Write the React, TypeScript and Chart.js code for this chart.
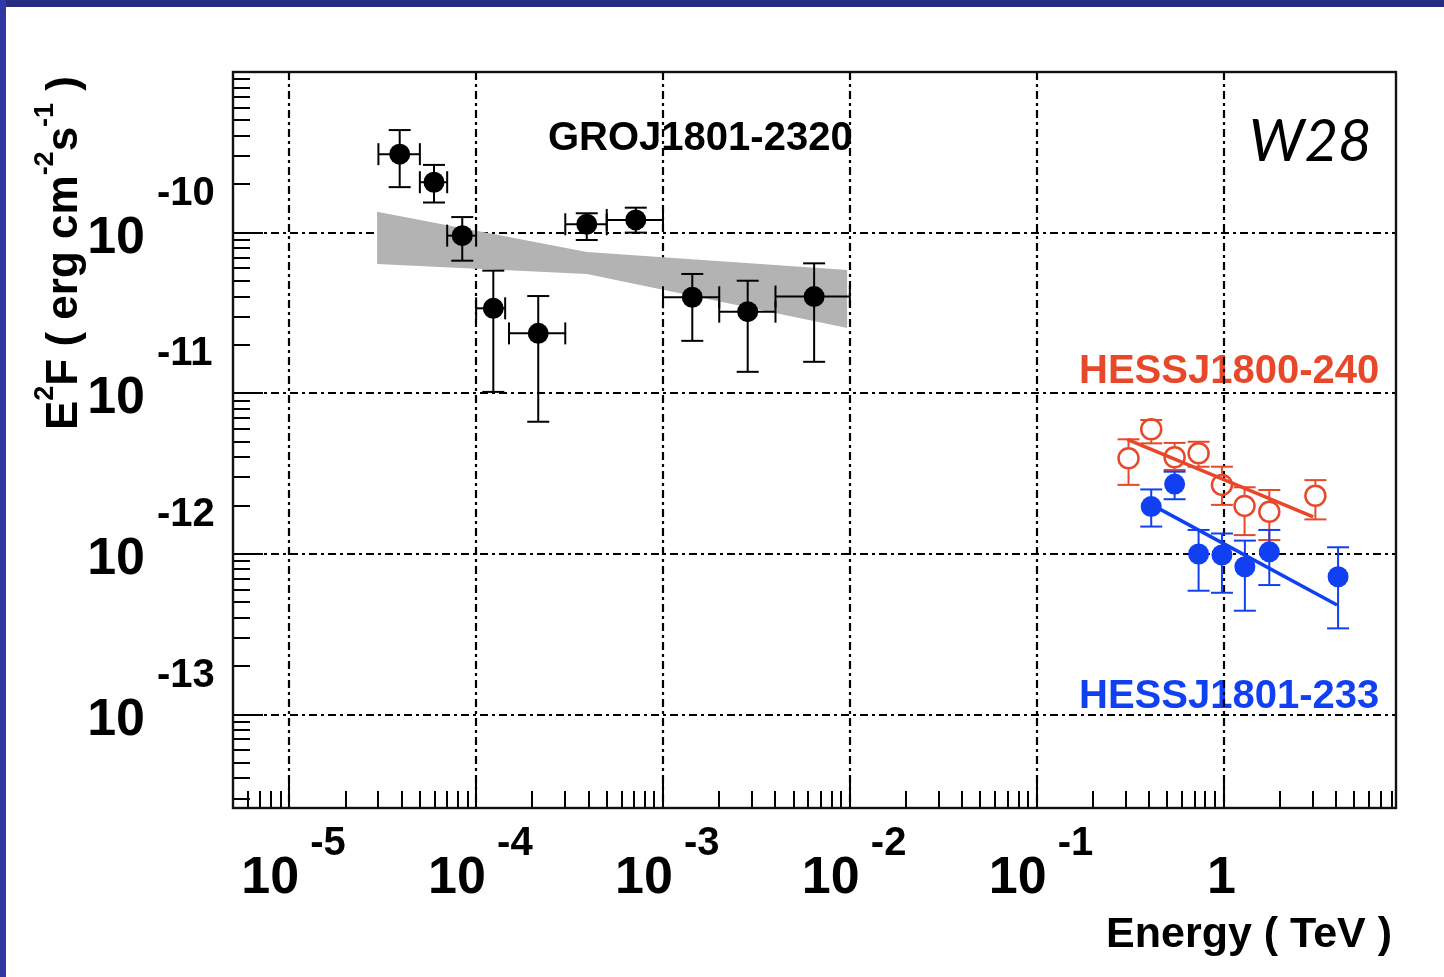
import React, { useEffect, useRef } from "react";
import { Chart, registerables } from "chart.js";
Chart.register(...registerables);

// ---------- axis ranges & ticks ----------
const xMin = 5.0e-6;
const xMax = 8.37;
const yMin = 2.62e-14;
const yMax = 1.0e-9;
const xTickExps = [-5, -4, -3, -2, -1, 0];
const yTickExps = [-10, -11, -12, -13];

// ---------- labels ----------
const labelEgret = "GROJ1801-2320";
const labelRed = "HESSJ1800-240";
const labelBlue = "HESSJ1801-233";
const labelW28 = "W28";
const xTitle = "Energy ( TeV )";

// ---------- GRO J1801-2320 (EGRET) ----------
const egretE = [3.9e-5, 5.95e-5, 8.43e-5, 1.236e-4, 2.15e-4, 3.91e-4, 7.15e-4, 1.435e-3, 2.84e-3, 6.44e-3];
const egretElo = [3.0e-5, 5.0e-5, 7.0e-5, 1.0e-4, 1.5e-4, 3.0e-4, 5.0e-4, 1.0e-3, 2.0e-3, 4.0e-3];
const egretEhi = [5.0e-5, 7.0e-5, 1.0e-4, 1.43e-4, 3.0e-4, 5.0e-4, 1.0e-3, 2.0e-3, 4.0e-3, 1.0e-2];
const egretF = [3.08e-10, 2.06e-10, 9.58e-11, 3.38e-11, 2.36e-11, 1.128e-10, 1.2e-10, 3.96e-11, 3.22e-11, 4.0e-11];
const egretFlo = [1.92e-10, 1.54e-10, 6.69e-11, 1.02e-11, 6.65e-12, 9.0e-11, 1.0e-10, 2.12e-11, 1.36e-11, 1.57e-11];
const egretFhi = [4.35e-10, 2.64e-10, 1.25e-10, 5.8e-11, 4.03e-11, 1.32e-10, 1.43e-10, 5.53e-11, 5.02e-11, 6.44e-11];

// ---------- butterfly band ----------
const bandE = [2.95e-5, 3.92e-4, 9.7e-3];
const bandUpper = [1.35e-10, 7.58e-11, 5.86e-11];
const bandLower = [6.38e-11, 5.53e-11, 2.55e-11];

// ---------- HESS J1800-240 (red, open) ----------
const redE = [0.31, 0.41, 0.547, 0.735, 0.98, 1.295, 1.757, 3.1];
const redF = [3.94e-12, 5.97e-12, 4.0e-12, 4.23e-12, 2.69e-12, 1.99e-12, 1.83e-12, 2.3e-12];
const redFhi = [5.17e-12, 6.82e-12, 4.91e-12, 4.99e-12, 3.49e-12, 2.6e-12, 2.5e-12, 2.88e-12];
const redFlo = [2.69e-12, 4.88e-12, 3.33e-12, 3.49e-12, 2.02e-12, 1.31e-12, 1.22e-12, 1.64e-12];
const redFitE = [0.305, 3.02];
const redFitF = [5.17e-12, 1.7e-12];

// ---------- HESS J1801-233 (blue, filled) ----------
const blueE = [0.41, 0.547, 0.735, 0.98, 1.3, 1.757, 4.1];
const blueF = [1.97e-12, 2.72e-12, 9.99e-13, 9.84e-13, 8.32e-13, 1.03e-12, 7.21e-13];
const blueFhi = [2.52e-12, 3.25e-12, 1.41e-12, 1.34e-12, 1.21e-12, 1.41e-12, 1.1e-12];
const blueFlo = [1.48e-12, 2.19e-12, 5.9e-13, 5.73e-13, 4.43e-13, 6.4e-13, 3.44e-13];
const blueFitE = [0.414, 4.05];
const blueFitF = [2.02e-12, 4.81e-13];

const RED = "#e8482a";
const BLUE = "#1040f2";
const GRAY = "#b3b3b3";
const FONT = '"Liberation Sans", Arial, Helvetica, sans-serif';

const pts = (xs: number[], ys: number[]) => xs.map((x, i) => ({ x, y: ys[i] }));

type Seg = { t: string; s: number; r?: number };
function drawRich(ctx: CanvasRenderingContext2D, segs: Seg[], x: number, y: number) {
  let cx = x;
  for (const g of segs) {
    ctx.font = `bold ${g.s}px ${FONT}`;
    ctx.fillText(g.t, cx, y - (g.r || 0));
    cx += ctx.measureText(g.t).width;
  }
  return cx - x;
}

function seg(ctx: CanvasRenderingContext2D, x1: number, y1: number, x2: number, y2: number) {
  ctx.beginPath();
  ctx.moveTo(x1, y1);
  ctx.lineTo(x2, y2);
  ctx.stroke();
}

const decorPlugin = {
  id: "sedDecor",
  beforeDatasetsDraw(chart: any) {
    const { ctx, chartArea: a, scales } = chart;
    const xs = scales.x;
    const ys = scales.y;
    ctx.save();
    // annotation texts (below grid)
    ctx.textAlign = "left";
    ctx.textBaseline = "alphabetic";
    ctx.font = `bold 40px ${FONT}`;
    ctx.fillStyle = "#000";
    ctx.fillText(labelEgret, 548, 150);
    ctx.fillStyle = RED;
    ctx.fillText(labelRed, 1079, 383);
    ctx.fillStyle = BLUE;
    ctx.fillText(labelBlue, 1079, 708);

    // grid
    ctx.strokeStyle = "#000";
    ctx.lineWidth = 2.2;
    ctx.setLineDash([8, 4, 3, 4]);
    for (const e of xTickExps) {
      const x = Math.round(xs.getPixelForValue(Math.pow(10, e)));
      seg(ctx, x, a.top, x, a.bottom);
    }
    for (const e of yTickExps) {
      const y = Math.round(ys.getPixelForValue(Math.pow(10, e)));
      seg(ctx, a.left, y, a.right, y);
    }
    ctx.setLineDash([]);

    // ticks
    ctx.lineWidth = 2;
    for (let d = -6; d <= 1; d++) {
      for (let m = 1; m <= 9; m++) {
        const v = m * Math.pow(10, d);
        if (v < xMin || v > xMax) continue;
        const x = Math.round(xs.getPixelForValue(v));
        seg(ctx, x, a.bottom, x, a.bottom - (m === 1 ? 30 : 17));
      }
    }
    for (let d = -14; d <= -9; d++) {
      for (let m = 1; m <= 9; m++) {
        const v = m * Math.pow(10, d);
        if (v < yMin || v > yMax) continue;
        const y = Math.round(ys.getPixelForValue(v));
        seg(ctx, a.left, y, a.left + (m === 1 ? 30 : 17), y);
      }
    }

    // frame
    ctx.lineWidth = 2.4;
    ctx.strokeStyle = "#111";
    ctx.strokeRect(a.left, a.top, a.right - a.left, a.bottom - a.top);

    // tick labels
    ctx.fillStyle = "#000";
    for (const e of xTickExps) {
      const x = xs.getPixelForValue(Math.pow(10, e));
      if (e === 0) {
        ctx.font = `bold 52px ${FONT}`;
        ctx.textAlign = "center";
        ctx.fillText("1", x - 2, 893);
      } else {
        ctx.textAlign = "left";
        ctx.font = `bold 52px ${FONT}`;
        ctx.fillText("10", x - 48, 893);
        ctx.font = `bold 40px ${FONT}`;
        ctx.fillText(String(e), x + 21, 855);
      }
    }
    for (const e of yTickExps) {
      const y = ys.getPixelForValue(Math.pow(10, e));
      ctx.textAlign = "right";
      ctx.font = `bold 52px ${FONT}`;
      ctx.fillText("10", 145, y + 20);
      ctx.textAlign = "left";
      ctx.font = `bold 40px ${FONT}`;
      ctx.fillText(String(e), 157, y - 28);
    }

    // axis titles
    ctx.textAlign = "right";
    ctx.font = `bold 43px ${FONT}`;
    ctx.fillText(xTitle, 1392, 947);

    ctx.save();
    ctx.translate(77, 430);
    ctx.rotate(-Math.PI / 2);
    ctx.textAlign = "left";
    drawRich(
      ctx,
      [
        { t: "E", s: 44 },
        { t: "2", s: 27, r: 24 },
        { t: "F ( erg cm", s: 44 },
        { t: "-2", s: 27, r: 24 },
        { t: "s", s: 44 },
        { t: "-1", s: 27, r: 24 },
        { t: " )", s: 44 },
      ],
      0,
      0
    );
    ctx.restore();
    ctx.restore();
  },
  afterDatasetsDraw(chart: any) {
    const { ctx, scales } = chart;
    const xs = scales.x;
    const ys = scales.y;
    const px = (v: number) => xs.getPixelForValue(v);
    const py = (v: number) => ys.getPixelForValue(v);
    ctx.save();
    ctx.lineCap = "butt";

    const ybars = (E: number[], F: number[], lo: number[], hi: number[], color: string, gap: number, cap: number) => {
      ctx.strokeStyle = color;
      ctx.lineWidth = 2;
      E.forEach((e, i) => {
        const x = px(e);
        const y = py(F[i]);
        const yt = py(hi[i]);
        const yb = py(lo[i]);
        if (y - gap > yt) seg(ctx, x, y - gap, x, yt);
        if (y + gap < yb) seg(ctx, x, y + gap, x, yb);
        seg(ctx, x - cap, yt, x + cap, yt);
        seg(ctx, x - cap, yb, x + cap, yb);
      });
    };
    // EGRET x bars
    ctx.strokeStyle = "#000";
    ctx.lineWidth = 2;
    egretE.forEach((e, i) => {
      const y = py(egretF[i]);
      const xl = px(egretElo[i]);
      const xr = px(egretEhi[i]);
      seg(ctx, xl, y, xr, y);
      seg(ctx, xl, y - 11, xl, y + 11);
      seg(ctx, xr, y - 11, xr, y + 11);
    });
    ybars(egretE, egretF, egretFlo, egretFhi, "#000", 0, 11);
    ybars(redE, redF, redFlo, redFhi, RED, 11, 11);
    ybars(blueE, blueF, blueFlo, blueFhi, BLUE, 0, 11);

    // W28
    ctx.fillStyle = "#000";
    ctx.textAlign = "left";
    ctx.font = `italic 400 58px Lato, "Open Sans", sans-serif`;
    ctx.fillText(labelW28, 1249, 161);
    ctx.restore();
  },
};

export default function App() {
  const ref = useRef<HTMLCanvasElement>(null);
  useEffect(() => {
    const canvas = ref.current!;
    const chart = new Chart(canvas, {
      type: "line",
      data: {
        datasets: [
          {
            label: labelEgret,
            data: pts(egretE, egretF),
            showLine: false,
            pointRadius: 10.5,
            pointBackgroundColor: "#000",
            pointBorderColor: "#000",
            pointBorderWidth: 0,
            order: 1,
          },
          {
            label: labelBlue,
            data: pts(blueE, blueF),
            showLine: false,
            pointRadius: 10.5,
            pointBackgroundColor: BLUE,
            pointBorderColor: BLUE,
            pointBorderWidth: 0,
            order: 1,
          },
          {
            label: labelRed,
            data: pts(redE, redF),
            showLine: false,
            pointRadius: 10,
            pointBackgroundColor: "rgba(255,255,255,0)",
            pointBorderColor: RED,
            pointBorderWidth: 2.5,
            order: 1,
          },
          {
            label: "red fit",
            data: pts(redFitE, redFitF),
            borderColor: RED,
            borderWidth: 3.5,
            pointRadius: 0,
            fill: false,
            order: 2,
          },
          {
            label: "blue fit",
            data: pts(blueFitE, blueFitF),
            borderColor: BLUE,
            borderWidth: 3.5,
            pointRadius: 0,
            fill: false,
            order: 2,
          },
          {
            label: "band lower",
            data: pts(bandE, bandLower),
            borderColor: "rgba(0,0,0,0)",
            borderWidth: 0,
            pointRadius: 0,
            fill: false,
            order: 3,
          },
          {
            label: "band upper",
            data: pts(bandE, bandUpper),
            borderColor: "rgba(0,0,0,0)",
            borderWidth: 0,
            backgroundColor: GRAY,
            pointRadius: 0,
            fill: "-1",
            order: 3,
          },
        ],
      },
      options: {
        responsive: false,
        animation: false,
        devicePixelRatio: 1,
        layout: { padding: { left: 233, top: 72, right: 48, bottom: 169 } },
        plugins: { legend: { display: false }, tooltip: { enabled: false } },
        scales: {
          x: { type: "logarithmic", min: xMin, max: xMax, display: false },
          y: { type: "logarithmic", min: yMin, max: yMax, display: false },
        },
      },
      plugins: [decorPlugin],
    } as any);
    return () => chart.destroy();
  }, []);
  return (
    <div style={{ position: "fixed", left: 0, top: 0, width: 1444, height: 977, background: "#fff", overflow: "hidden" }}>
      <canvas ref={ref} width={1444} height={977} style={{ position: "absolute", left: 0, top: 0, width: 1444, height: 977 }} />
      <div style={{ position: "absolute", left: 0, top: 0, width: 1444, height: 7, background: "#262c82" }} />
      <div style={{ position: "absolute", left: 0, top: 0, width: 6, height: 977, background: "#2f38a3" }} />
    </div>
  );
}
